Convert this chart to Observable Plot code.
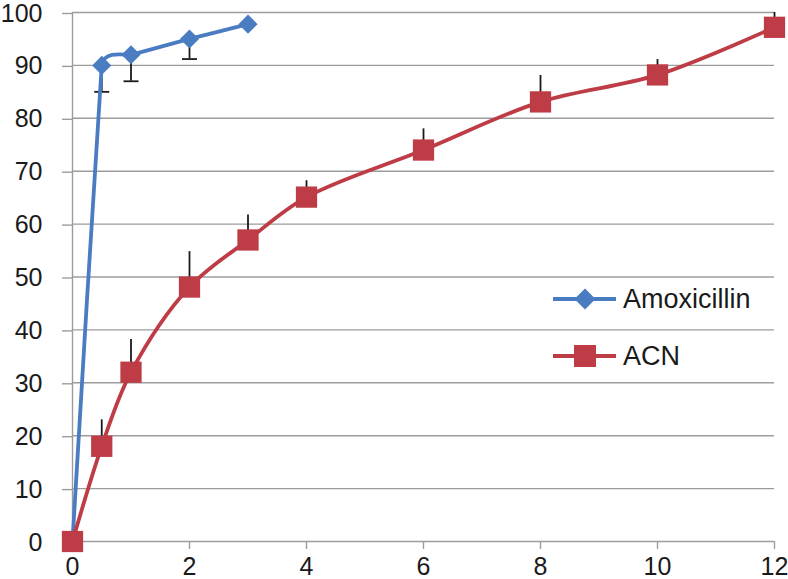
<!DOCTYPE html>
<html>
<head>
<meta charset="utf-8">
<script src="https://cdn.jsdelivr.net/npm/d3@7"></script>
<script src="https://cdn.jsdelivr.net/npm/@observablehq/plot@0.6"></script>
<style>
  html, body { margin: 0; padding: 0; background: #fff; }
  #wrap { position: relative; width: 788px; height: 579px; font-family: "Liberation Sans", Arial, sans-serif; }
  #legend { position: absolute; left: 548px; top: 276px; }
</style>
</head>
<body>
<div id="wrap"></div>
<script>
// ---- data ----
const seriesNames = ["Amoxicillin", "ACN"];
const timeAmox = [0, 0.5, 1, 2, 3];
const amox = [0, 90, 92, 95, 97.8];
const amoxErrLow = [null, 85, 87, 91.2, null];
const timeACN = [0, 0.5, 1, 2, 3, 4, 6, 8, 10, 12];
const acn = [0, 18, 32, 48.1, 57, 65.1, 74, 83.1, 88.2, 97.2];
const acnErrHigh = [null, 23, 38.2, 54.8, 61.7, 68.2, 78, 88.1, 91.1, 100];
const xTicks = [0, 2, 4, 6, 8, 10, 12];
const yTicks = [0, 10, 20, 30, 40, 50, 60, 70, 80, 90, 100];

const blue = "#4a7cc2";
const red = "#be3c46";
const gridColor = "#9c9c9c";

const amoxData = timeAmox.map((t, i) => ({t, v: amox[i], e: amoxErrLow[i]}));
const acnData = timeACN.map((t, i) => ({t, v: acn[i], e: acnErrHigh[i]}));
const amoxErr = amoxData.filter(d => d.e != null);
const acnErr = acnData.filter(d => d.e != null);

// horizontal cap symbol for error bars
const capSymbol = {
  draw(ctx, size) {
    const w = Math.sqrt(size / Math.PI);
    ctx.moveTo(-w, 0);
    ctx.lineTo(w, 0);
  }
};

const chart = Plot.plot({
  width: 788,
  height: 579,
  marginLeft: 72,
  marginRight: 14,
  marginTop: 12,
  marginBottom: 38,
  style: { fontFamily: "'Liberation Sans', Arial, sans-serif", fontSize: "25px", background: "#fff", color: "#1a1a1a" },
  x: { domain: [0, 12] },
  y: { domain: [0, 100] },
  marks: [
    Plot.gridY(yTicks, { stroke: gridColor, strokeOpacity: 1, strokeWidth: 1.4 }),
    Plot.ruleX([0], { stroke: gridColor, strokeWidth: 1.4 }),
    Plot.axisY(yTicks, { tickSize: 10, tickPadding: 20, stroke: gridColor, strokeWidth: 1.4, fill: "#1a1a1a", fontSize: 25, label: null, dy: 1, tickFormat: d => String(d) }),
    Plot.axisX(xTicks, { tickSize: 8, tickPadding: 8, stroke: gridColor, strokeWidth: 1.4, fill: "#1a1a1a", fontSize: 25, label: null, tickFormat: d => String(d) }),
    // error bars
    Plot.ruleX(amoxErr, { x: "t", y1: "v", y2: "e", stroke: "#1a1a1a", strokeWidth: 1.8 }),
    Plot.dot(amoxErr, { x: "t", y: "e", symbol: capSymbol, r: 7.5, stroke: "#1a1a1a", strokeWidth: 1.8, fill: "none" }),
    Plot.ruleX(acnErr, { x: "t", y1: "v", y2: "e", stroke: "#1a1a1a", strokeWidth: 1.8 }),
    // lines
    Plot.line(amoxData, { x: "t", y: "v", stroke: blue, strokeWidth: 3.8, curve: "cardinal", tension: 0.8 }),
    Plot.line(acnData, { x: "t", y: "v", stroke: red, strokeWidth: 3.8, curve: "catmull-rom" }),
    // markers
    Plot.dot(amoxData.slice(1), { x: "t", y: "v", symbol: "diamond2", r: 8.6, fill: blue, stroke: "none" }),
    Plot.dot(acnData, { x: "t", y: "v", symbol: "square", r: 12, fill: red, stroke: "none" })
  ]
});

const wrap = document.getElementById("wrap");
wrap.appendChild(chart);

// legend
const NS = "http://www.w3.org/2000/svg";
const legend = document.createElementNS(NS, "svg");
legend.setAttribute("id", "legend");
legend.setAttribute("width", 230);
legend.setAttribute("height", 110);
const rows = [
  { name: seriesNames[0], color: blue, y: 23, shape: "diamond" },
  { name: seriesNames[1], color: red, y: 80, shape: "square" }
];
for (const r of rows) {
  const ln = document.createElementNS(NS, "line");
  ln.setAttribute("x1", 5); ln.setAttribute("x2", 68);
  ln.setAttribute("y1", r.y); ln.setAttribute("y2", r.y);
  ln.setAttribute("stroke", r.color); ln.setAttribute("stroke-width", 3.8);
  legend.appendChild(ln);
  const p = document.createElementNS(NS, "path");
  const cx = 37, cy = r.y;
  if (r.shape === "diamond") {
    p.setAttribute("d", `M${cx},${cy-10.5}L${cx+10.5},${cy}L${cx},${cy+10.5}L${cx-10.5},${cy}Z`);
  } else {
    p.setAttribute("d", `M${cx-11},${cy-11}h22v22h-22Z`);
  }
  p.setAttribute("fill", r.color);
  legend.appendChild(p);
  const tx = document.createElementNS(NS, "text");
  tx.setAttribute("x", 75);
  tx.setAttribute("y", r.y + 9);
  tx.setAttribute("font-size", 27);
  tx.setAttribute("fill", "#1a1a1a");
  tx.setAttribute("font-family", "'Liberation Sans', Arial, sans-serif");
  tx.textContent = r.name;
  legend.appendChild(tx);
}
wrap.appendChild(legend);
</script>
</body>
</html>
